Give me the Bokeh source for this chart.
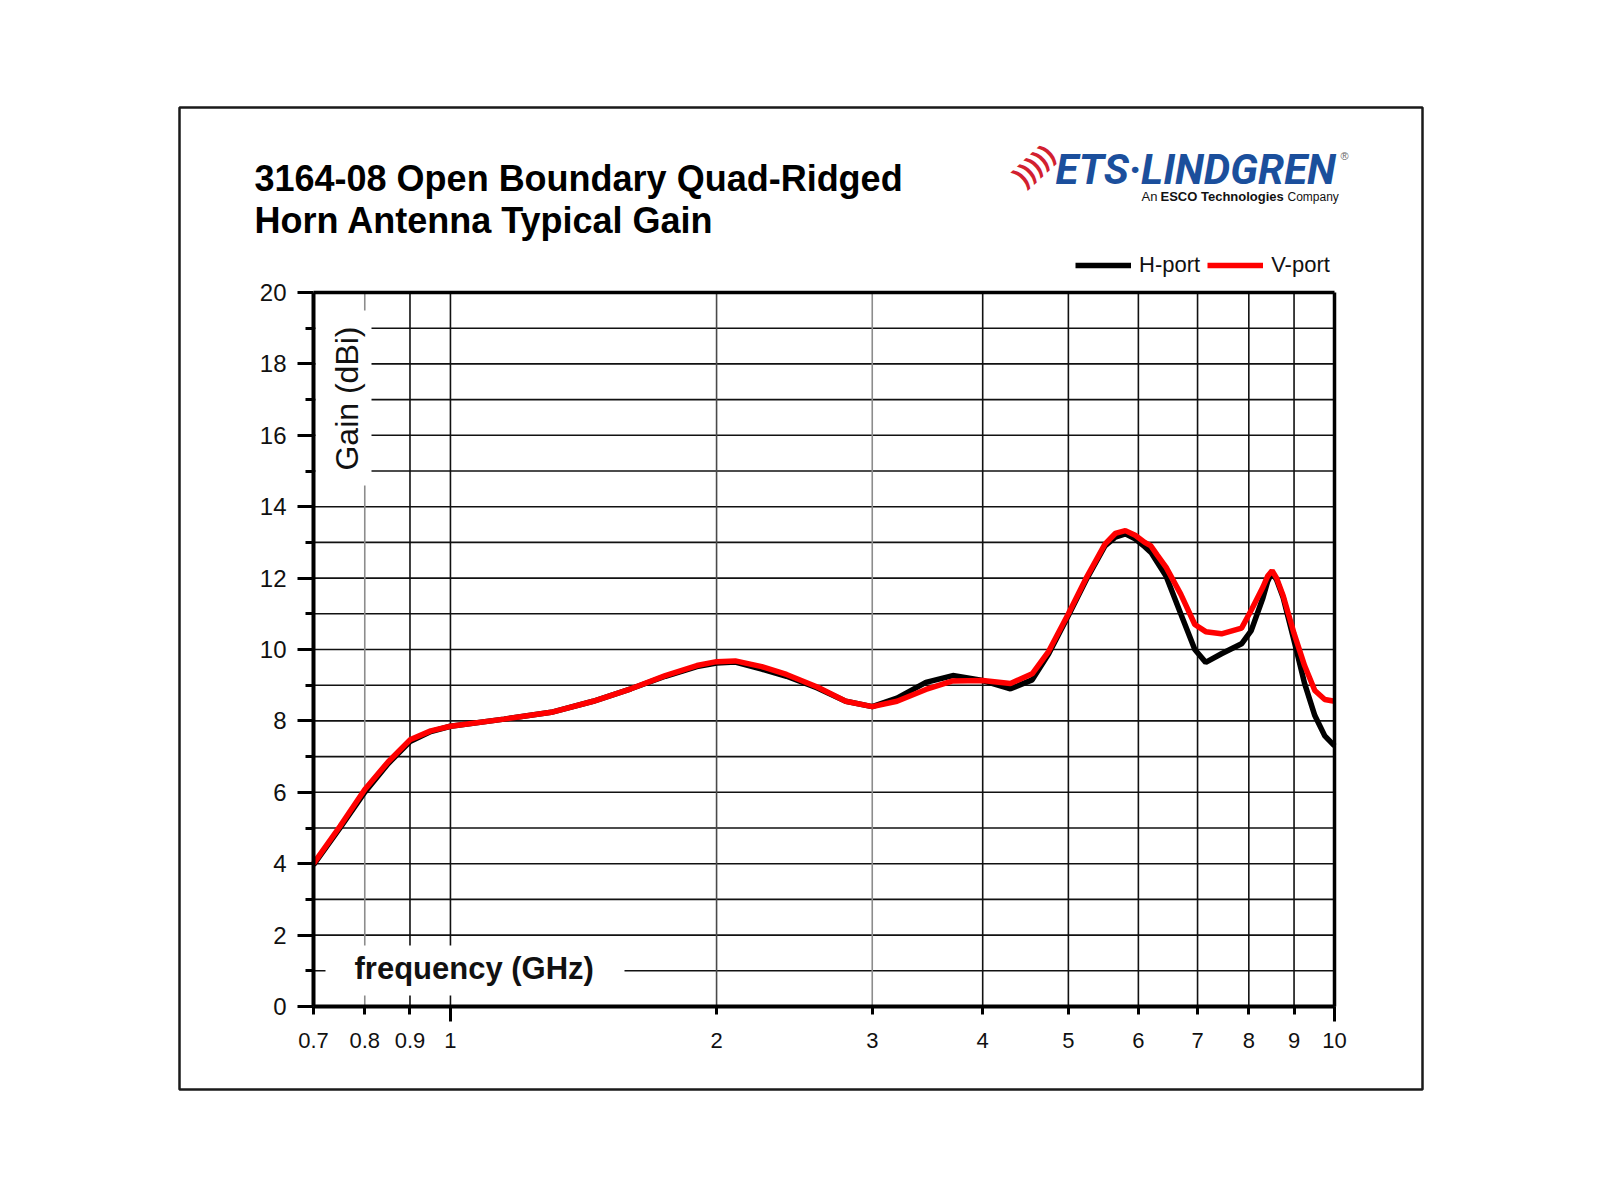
import math
from bokeh.plotting import figure
from bokeh.models import FixedTicker, Label, BoxAnnotation, Range1d, LogAxis, LinearAxis
from bokeh.embed import file_html
from bokeh.resources import INLINE

# ---------------- data ----------------
freq = [0.7, 0.75, 0.8, 0.85, 0.9, 0.95, 1.0, 1.15, 1.3, 1.45, 1.6, 1.75, 1.9, 2.0,
        2.1, 2.25, 2.4, 2.6, 2.8, 3.0, 3.2, 3.45, 3.7, 4.0, 4.3, 4.55, 4.75, 5.0,
        5.25, 5.5, 5.65, 5.8, 5.95, 6.1, 6.2, 6.3, 6.45, 6.7, 6.95, 7.15, 7.45, 7.85,
        8.05, 8.3, 8.4, 8.5, 8.6, 8.75, 9.0, 9.25, 9.5, 9.75, 10.0]
h_port = [3.97, 5.0, 6.0, 6.8, 7.42, 7.7, 7.85, 8.05, 8.24, 8.55, 8.9, 9.25, 9.52, 9.62,
          9.65, 9.45, 9.25, 8.92, 8.55, 8.40, 8.64, 9.08, 9.27, 9.13, 8.9, 9.15, 9.88, 10.95,
          12.0, 12.9, 13.15, 13.24, 13.1, 12.88, 12.72, 12.45, 12.05, 11.0, 10.0, 9.64, 9.88, 10.16,
          10.53, 11.45, 11.9, 12.17, 11.95, 11.45, 10.25, 9.05, 8.15, 7.58, 7.3]
v_port = [4.0, 5.05, 6.08, 6.85, 7.47, 7.72, 7.85, 8.05, 8.24, 8.55, 8.9, 9.27, 9.55, 9.66,
          9.68, 9.52, 9.3, 8.95, 8.55, 8.40, 8.55, 8.88, 9.12, 9.13, 9.05, 9.32, 9.95, 11.0,
          12.05, 12.95, 13.25, 13.33, 13.2, 13.0, 12.9, 12.65, 12.3, 11.55, 10.7, 10.5, 10.44, 10.6,
          11.1, 11.75, 12.05, 12.21, 12.0, 11.5, 10.45, 9.55, 8.85, 8.6, 8.55]

x_ticks = [0.7, 0.8, 0.9, 1, 2, 3, 4, 5, 6, 7, 8, 9, 10]
x_tick_labels = ["0.7", "0.8", "0.9", "1", "2", "3", "4", "5", "6", "7", "8", "9", "10"]
x_decade_ticks = [1, 10]
y_major = [0, 2, 4, 6, 8, 10, 12, 14, 16, 18, 20]
y_minor = [1, 3, 5, 7, 9, 11, 13, 15, 17, 19]
y_grid_lines = list(range(1, 20))
x_grid_black = [0.9, 1, 4, 5, 6, 7, 8, 9]
x_grid_dark = [2]
x_grid_grey = [0.8, 3]
X_MIN, X_MAX = 0.7, 10
Y_MIN, Y_MAX = 0, 20

title_lines = ["3164-08 Open Boundary Quad-Ridged", "Horn Antenna Typical Gain"]
series_names = ["H-port", "V-port"]
x_label = "frequency (GHz)"
y_label = "Gain (dBi)"

FONT = "Liberation Sans"

# ---------------- layout geometry (pixels) ----------------
BOX_L, BOX_R, BOX_T, BOX_B = 179, 1422, 107, 1089     # outer framed box
AX_L, AX_R, AX_T, AX_B = 313, 1334, 292, 1006         # plot area (0.7..10, 0..20)
W, H = 1584, 1184

decade_px = (AX_R - AX_L) / math.log10(X_MAX / X_MIN)
unit_px = (AX_B - AX_T) / (Y_MAX - Y_MIN)
x_start = X_MIN * 10 ** ((BOX_L - AX_L) / decade_px)
x_end = X_MAX * 10 ** ((BOX_R - AX_R) / decade_px)
y_start = Y_MIN - (BOX_B - AX_B) / unit_px
y_end = Y_MAX + (AX_T - BOX_T) / unit_px

p = figure(x_axis_type="log", x_range=Range1d(x_start, x_end), y_range=Range1d(y_start, y_end),
           frame_width=BOX_R - BOX_L, frame_height=BOX_B - BOX_T,
           min_border_left=BOX_L, min_border_right=W - BOX_R,
           min_border_top=BOX_T, min_border_bottom=H - BOX_B,
           output_backend="svg", toolbar_location=None,
           background_fill_color="white", border_fill_color="white")

p.outline_line_color = "#1a1a1a"
p.outline_line_width = 2.5
p.xgrid.visible = False
p.ygrid.visible = False

# x axis (placed on y = 0)
xa = p.xaxis[0]
xa.fixed_location = Y_MIN
xa.bounds = (X_MIN, X_MAX)
xa.ticker = FixedTicker(ticks=x_ticks, minor_ticks=[])
xa.major_label_overrides = {t: l for t, l in zip(x_ticks, x_tick_labels)}
xa.axis_line_width = 4
xa.axis_line_color = "black"
xa.major_tick_line_width = 3
xa.major_tick_line_color = "black"
xa.major_tick_out = 8
xa.major_tick_in = 0
xa.minor_tick_out = 0
xa.minor_tick_in = 0
xa.major_label_text_font = FONT
xa.major_label_text_font_size = "22px"
xa.major_label_text_color = "#111111"
xa.major_label_standoff = 18

# longer ticks at the decades
xa2 = LogAxis(fixed_location=Y_MIN, bounds=(X_MIN, X_MAX),
              ticker=FixedTicker(ticks=x_decade_ticks, minor_ticks=[]),
              major_label_overrides={t: "" for t in x_decade_ticks},
              axis_line_color=None, major_tick_line_width=3, major_tick_line_color="black",
              major_tick_out=15, major_tick_in=0, minor_tick_out=0, minor_tick_in=0)
p.add_layout(xa2, "below")

# y axis (placed on x = 0.7)
ya = p.yaxis[0]
ya.fixed_location = X_MIN
ya.bounds = (Y_MIN, Y_MAX)
ya.ticker = FixedTicker(ticks=y_major, minor_ticks=y_minor)
ya.axis_line_width = 4
ya.axis_line_color = "black"
ya.major_tick_line_width = 3
ya.major_tick_line_color = "black"
ya.minor_tick_line_width = 3
ya.minor_tick_line_color = "black"
ya.major_tick_out = 16
ya.major_tick_in = 0
ya.minor_tick_out = 8
ya.minor_tick_in = 0
ya.major_label_text_font = FONT
ya.major_label_text_font_size = "24px"
ya.major_label_text_color = "#111111"
ya.major_label_standoff = 11

# top and right edges of the plot area
top_ax = LogAxis(fixed_location=Y_MAX, bounds=(X_MIN, X_MAX),
                 ticker=FixedTicker(ticks=[], minor_ticks=[]),
                 axis_line_width=3.5, axis_line_color="black",
                 major_tick_out=0, major_tick_in=0, minor_tick_out=0, minor_tick_in=0)
p.add_layout(top_ax, "above")
right_ax = LinearAxis(fixed_location=X_MAX, bounds=(Y_MIN, Y_MAX),
                      ticker=FixedTicker(ticks=[], minor_ticks=[]),
                      axis_line_width=3.5, axis_line_color="black",
                      major_tick_out=0, major_tick_in=0, minor_tick_out=0, minor_tick_in=0)
p.add_layout(right_ax, "right")

# grid lines inside the plot area, from the tick lists
n = len(y_grid_lines)
p.segment(x0=[X_MIN] * n, x1=[X_MAX] * n, y0=y_grid_lines, y1=y_grid_lines,
          line_color="#111111", line_width=1.6, level="underlay")
for ticks, col in ((x_grid_black, "#111111"), (x_grid_dark, "#4a4a4a"), (x_grid_grey, "#8c8c8c")):
    p.segment(x0=ticks, x1=ticks, y0=[Y_MIN] * len(ticks), y1=[Y_MAX] * len(ticks),
              line_color=col, line_width=1.6, level="underlay")

# white areas behind the in-plot axis titles
for (l, r, t, b) in ((315, 371, 310, 485), (325, 624, 945, 995)):
    p.add_layout(BoxAnnotation(left=l, right=r, top=t, bottom=b,
                               left_units="canvas", right_units="canvas",
                               top_units="canvas", bottom_units="canvas",
                               fill_color="white", fill_alpha=1, line_alpha=0, level="glyph"))

# curves
p.line(freq, h_port, line_color="black", line_width=5.5, legend_label=series_names[0])
p.line(freq, v_port, line_color="#ff0000", line_width=5.5, legend_label=series_names[1])

leg = p.legend[0]
leg.orientation = "horizontal"
leg.location = (1075 - BOX_L, BOX_B - 278)
leg.glyph_width = 56
leg.glyph_height = 24
leg.label_height = 24
leg.label_standoff = 8
leg.spacing = 7
leg.padding = 0
leg.margin = 0
leg.border_line_alpha = 0
leg.background_fill_alpha = 0
leg.label_text_font = FONT
leg.label_text_font_size = "22px"
leg.label_text_color = "#111111"

# axis titles inside the plot
p.add_layout(Label(x=346, y=398, x_units="canvas", y_units="canvas", text=y_label,
                   angle=math.pi / 2, text_align="center", text_baseline="middle",
                   text_font=FONT, text_font_size="32px", text_color="#111111"))
p.add_layout(Label(x=354, y=968, x_units="canvas", y_units="canvas", text=x_label,
                   text_align="left", text_baseline="middle", text_font=FONT,
                   text_font_style="bold", text_font_size="31px", text_color="#111111"))

# title
for i, t in enumerate(title_lines):
    p.add_layout(Label(x=254, y=177.5 + 42.5 * i, x_units="canvas", y_units="canvas", text=t,
                       text_align="left", text_baseline="middle", text_font=FONT,
                       text_font_style="bold", text_font_size="36px", text_color="#000000"))

# logo
p.add_layout(Label(x=1017, y=180, x_units="canvas", y_units="canvas", text=")))))",
                   angle=0.75, text_align="left", text_baseline="middle", text_font=FONT,
                   text_font_style="bold", text_font_size="27px", text_color="#d2202f"))
p.add_layout(Label(x=1055, y=169, x_units="canvas", y_units="canvas", text="ETS·LINDGREN",
                   text_align="left", text_baseline="middle",
                   text_font="Roboto", text_font_style="bold italic",
                   text_font_size="42px", text_color="#1b4f9c"))
p.add_layout(Label(x=1340, y=155, x_units="canvas", y_units="canvas", text="®",
                   text_align="left", text_baseline="middle", text_font=FONT,
                   text_font_size="11px", text_color="#666666"))
p.add_layout(Label(x=1141, y=196, x_units="canvas", y_units="canvas", text="An",
                   text_align="left", text_baseline="middle", text_font=FONT,
                   text_font_size="13px", text_color="#111111"))
p.add_layout(Label(x=1160, y=196, x_units="canvas", y_units="canvas", text="ESCO Technologies",
                   text_align="left", text_baseline="middle", text_font=FONT,
                   text_font_style="bold", text_font_size="13px", text_color="#111111"))
p.add_layout(Label(x=1287, y=196, x_units="canvas", y_units="canvas", text="Company",
                   text_align="left", text_baseline="middle", text_font=FONT,
                   text_font_size="12px", text_color="#111111"))

open("out.html", "w").write(file_html(p, INLINE))
